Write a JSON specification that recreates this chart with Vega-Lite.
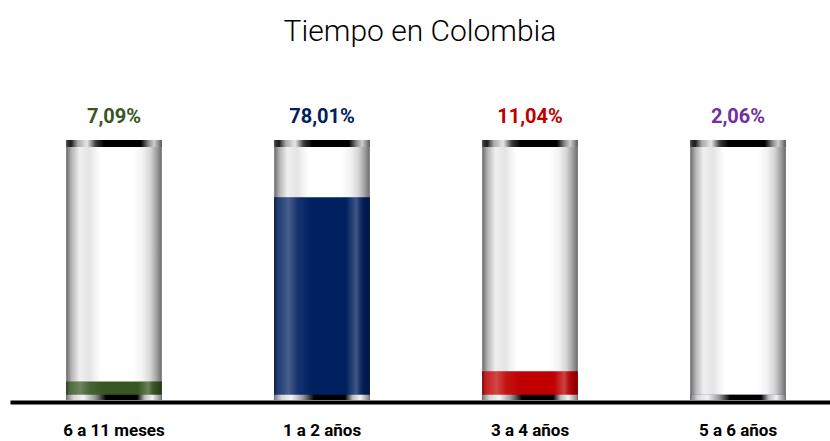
{
  "$schema": "https://vega.github.io/schema/vega-lite/v6.json",
  "width": 820,
  "height": 260,
  "autosize": {"type": "none"},
  "padding": {"left": 10, "top": 140, "right": 0, "bottom": 41},
  "background": "white",
  "title": {
    "text": "Tiempo en Colombia",
    "font": "Roboto, sans-serif",
    "fontSize": 30,
    "fontWeight": 300,
    "color": "#000000",
    "anchor": "middle",
    "frame": "group",
    "offset": 60
  },
  "data": {
    "values": [
      {"tiempo": "6 a 11 meses", "pct": 0.0709},
      {"tiempo": "1 a 2 años", "pct": 0.7801},
      {"tiempo": "3 a 4 años", "pct": 0.1104},
      {"tiempo": "5 a 6 años", "pct": 0.0206}
    ]
  },
  "encoding": {
    "x": {
      "field": "tiempo",
      "type": "nominal",
      "sort": null,
      "scale": {"paddingInner": 0.54, "paddingOuter": 0.241, "align": 0.56},
      "axis": {
        "title": null,
        "domainColor": "#000000",
        "domainWidth": 4,
        "offset": 2,
        "ticks": false,
        "labelPadding": 20,
        "labelAngle": 0,
        "labelFont": "Roboto, sans-serif",
        "labelFontSize": 17,
        "labelFontWeight": "bold",
        "labelColor": "#000000"
      }
    }
  },
  "layer": [
    {
      "mark": {
        "type": "bar",
        "fill": {
          "gradient": "linear", "x1": 0, "x2": 1, "y1": 0, "y2": 0,
          "stops": [
            {"offset": 0, "color": "#6a6a6a"},
            {"offset": 0.06, "color": "#b8b8b8"},
            {"offset": 0.14, "color": "#efefef"},
            {"offset": 0.24, "color": "#e4e4e4"},
            {"offset": 0.36, "color": "#ffffff"},
            {"offset": 0.7, "color": "#ffffff"},
            {"offset": 0.8, "color": "#f2f2f2"},
            {"offset": 0.88, "color": "#d6d6d6"},
            {"offset": 0.95, "color": "#9c9c9c"},
            {"offset": 1, "color": "#6a6a6a"}
          ]
        }
      },
      "encoding": {
        "y": {"datum": 0, "type": "quantitative", "scale": {"domain": [0, 1]}, "axis": null},
        "y2": {"datum": 1}
      }
    },
    {
      "mark": {"type": "bar"},
      "encoding": {
        "y": {"field": "pct", "type": "quantitative", "scale": {"domain": [0, 1]}, "axis": null},
        "color": {
          "field": "tiempo",
          "type": "nominal",
          "scale": {
            "domain": ["6 a 11 meses", "1 a 2 años", "3 a 4 años", "5 a 6 años"],
            "range": ["#375623", "#002060", "#c00000", "#7030a0"]
          },
          "legend": null
        }
      }
    },
    {
      "mark": {
        "type": "bar",
        "fill": {
          "gradient": "linear", "x1": 0, "x2": 1, "y1": 0, "y2": 0,
          "stops": [
            {"offset": 0, "color": "rgba(0,0,0,0.35)"},
            {"offset": 0.06, "color": "rgba(255,255,255,0.15)"},
            {"offset": 0.15, "color": "rgba(255,255,255,0.28)"},
            {"offset": 0.25, "color": "rgba(255,255,255,0.08)"},
            {"offset": 0.4, "color": "rgba(255,255,255,0)"},
            {"offset": 0.75, "color": "rgba(255,255,255,0)"},
            {"offset": 0.86, "color": "rgba(255,255,255,0.25)"},
            {"offset": 0.94, "color": "rgba(0,0,0,0.1)"},
            {"offset": 1, "color": "rgba(0,0,0,0.35)"}
          ]
        }
      },
      "encoding": {
        "y": {"field": "pct", "type": "quantitative", "scale": {"domain": [0, 1]}, "axis": null}
      }
    },
    {
      "mark": {
        "type": "bar",
        "fill": {
          "gradient": "linear", "x1": 0, "x2": 1, "y1": 0, "y2": 0,
          "stops": [
            {"offset": 0, "color": "#4a4a4a"},
            {"offset": 0.05, "color": "#1a1a1a"},
            {"offset": 0.12, "color": "#a8a8a8"},
            {"offset": 0.22, "color": "#e8e8e8"},
            {"offset": 0.31, "color": "#3a3a3a"},
            {"offset": 0.4, "color": "#000000"},
            {"offset": 0.78, "color": "#000000"},
            {"offset": 0.86, "color": "#8a8a8a"},
            {"offset": 0.92, "color": "#cfcfcf"},
            {"offset": 1, "color": "#5a5a5a"}
          ]
        }
      },
      "encoding": {
        "y": {"datum": 0.973, "type": "quantitative", "scale": {"domain": [0, 1]}, "axis": null},
        "y2": {"datum": 1}
      }
    },
    {
      "mark": {
        "type": "bar",
        "fill": {
          "gradient": "linear", "x1": 0, "x2": 1, "y1": 0, "y2": 0,
          "stops": [
            {"offset": 0, "color": "#7a7a7a"},
            {"offset": 0.08, "color": "#d8d8d8"},
            {"offset": 0.18, "color": "#f4f4f4"},
            {"offset": 0.3, "color": "#9a9a9a"},
            {"offset": 0.42, "color": "#000000"},
            {"offset": 0.74, "color": "#000000"},
            {"offset": 0.82, "color": "#bdbdbd"},
            {"offset": 0.9, "color": "#f2f2f2"},
            {"offset": 1, "color": "#7a7a7a"}
          ]
        }
      },
      "encoding": {
        "y": {"datum": 0, "type": "quantitative", "scale": {"domain": [0, 1]}, "axis": null},
        "y2": {"datum": 0.02}
      }
    },
    {
      "mark": {
        "type": "text",
        "baseline": "middle",
        "dy": -23,
        "font": "Roboto, sans-serif",
        "fontSize": 20,
        "fontWeight": "bold"
      },
      "encoding": {
        "y": {"datum": 1, "type": "quantitative", "scale": {"domain": [0, 1]}, "axis": null},
        "text": {"field": "pct", "type": "quantitative", "format": ".2%"},
        "color": {"field": "tiempo", "type": "nominal", "legend": null}
      }
    }
  ],
  "config": {
    "view": {"stroke": null},
    "locale": {
      "number": {"decimal": ",", "thousands": ".", "grouping": [3], "currency": ["", " €"]}
    }
  }
}
